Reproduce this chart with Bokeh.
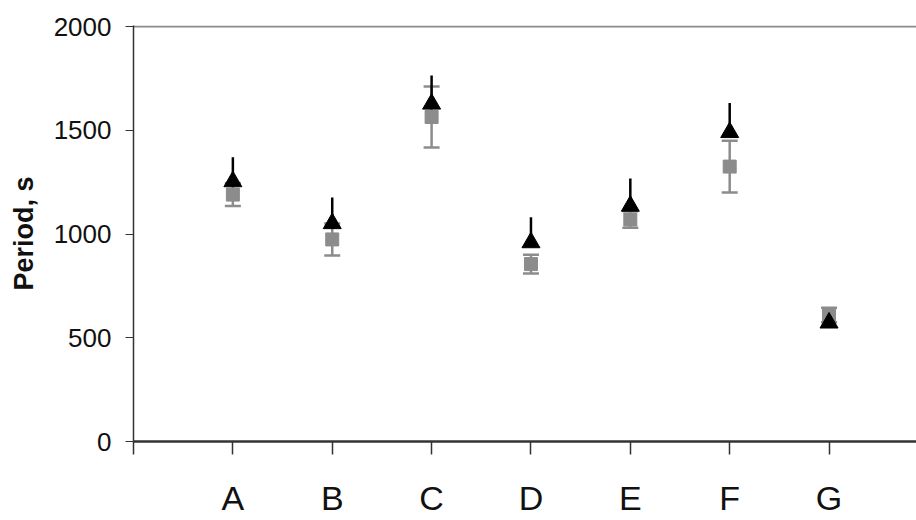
from bokeh.plotting import figure
from bokeh.models import ColumnDataSource, Range1d, FixedTicker, Whisker, TeeHead
from bokeh.embed import file_html
from bokeh.resources import INLINE

categories = ["A", "B", "C", "D", "E", "F", "G"]
x_pos = [1, 2, 3, 4, 5, 6, 7]
gray_vals = [1190, 974, 1564, 855, 1070, 1325, 610]
gray_err = [55, 77, 147, 45, 40, 125, 35]
black_vals = [1253, 1051, 1627, 959, 1135, 1490, 572]
black_err = [117, 125, 137, 122, 133, 141, 30]
y_ticks = [0, 500, 1000, 1500, 2000]

gray_src = ColumnDataSource(dict(
    x=x_pos, y=gray_vals,
    lo=[v - e for v, e in zip(gray_vals, gray_err)],
    hi=[v + e for v, e in zip(gray_vals, gray_err)],
))
black_src = ColumnDataSource(dict(
    x=x_pos, y=black_vals,
    hi=[v + e for v, e in zip(black_vals, black_err)],
))

p = figure(width=916, height=520, output_backend="svg", toolbar_location=None,
           x_range=Range1d(0, 7.88), y_range=Range1d(0, 2005),
           min_border_left=133, min_border_right=0, min_border_top=25, min_border_bottom=79)
p.background_fill_color = "white"
p.border_fill_color = "white"
p.outline_line_color = None

# gridlines: only the top one at 2000
p.xgrid.visible = False
p.ygrid.ticker = FixedTicker(ticks=[2000])
p.ygrid.grid_line_color = "#8a8a8a"
p.ygrid.grid_line_width = 2

# x axis
p.xaxis.ticker = FixedTicker(ticks=[0] + x_pos)
overrides = {0: ""}
for xv, c in zip(x_pos, categories):
    overrides[xv] = c
p.xaxis.major_label_overrides = overrides
p.xaxis.major_label_text_font = "Liberation Sans"
p.xaxis.major_label_text_font_size = "34px"
p.xaxis.major_label_text_color = "#111111"
p.xaxis.major_label_standoff = 24
p.xaxis.major_tick_in = 0
p.xaxis.major_tick_out = 13
p.xaxis.minor_tick_line_color = None
p.xaxis.axis_line_width = 2.5
p.xaxis.axis_line_color = "#333333"
p.xaxis.major_tick_line_color = "#333333"
p.xaxis.major_tick_line_width = 1.5

# y axis
p.yaxis.ticker = FixedTicker(ticks=y_ticks)
p.yaxis.major_label_text_font = "Liberation Sans"
p.yaxis.major_label_text_font_size = "26px"
p.yaxis.major_label_text_color = "#111111"
p.yaxis.major_label_standoff = 14
p.yaxis.major_tick_in = 0
p.yaxis.major_tick_out = 8
p.yaxis.minor_tick_line_color = None
p.yaxis.axis_line_width = 1.5
p.yaxis.axis_line_color = "#333333"
p.yaxis.major_tick_line_color = "#333333"
p.yaxis.axis_label = "Period, s"
p.yaxis.axis_label_text_font = "Liberation Sans"
p.yaxis.axis_label_text_font_style = "bold"
p.yaxis.axis_label_text_font_size = "27px"
p.yaxis.axis_label_text_color = "#111111"
p.yaxis.axis_label_standoff = 12

gray = "#8c8c8c"
# gray error bars with caps
gw = Whisker(source=gray_src, base="x", lower="lo", upper="hi",
             line_color=gray, line_width=2.5,
             upper_head=TeeHead(size=16, line_color=gray, line_width=2.5),
             lower_head=TeeHead(size=16, line_color=gray, line_width=2.5))
p.add_layout(gw)
p.scatter("x", "y", source=gray_src, marker="square", size=13,
          fill_color=gray, line_color=gray)

# black error bars (upper part visible), no caps
p.segment(x0="x", y0="y", x1="x", y1="hi", source=black_src,
          line_color="black", line_width=2.5)
p.scatter("x", "y", source=black_src, marker="triangle", size=18,
          fill_color="black", line_color="black")

open("out.html", "w").write(file_html(p, INLINE))
